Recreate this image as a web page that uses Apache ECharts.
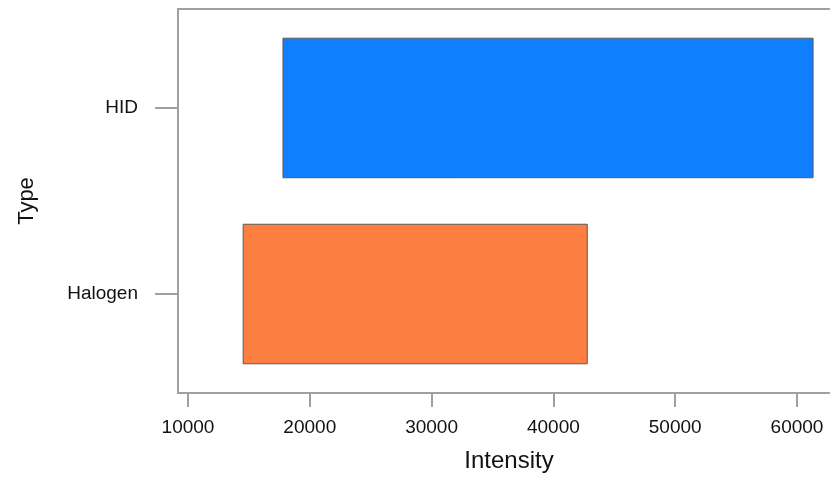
<!DOCTYPE html>
<html>
<head>
    <meta charset="utf-8">
    <title>Intensity by Type</title>
    <script src="https://cdn.jsdelivr.net/npm/echarts@6/dist/echarts.min.js"></script>
    <style>
        html, body { margin: 0; padding: 0; background: #fff; }
        #chart { width: 830px; height: 480px; }
    </style>
</head>
<body>
    <div id="chart"></div>
    <script type="text/javascript">
        // categories from bottom to top
        var types = ['Halogen', 'HID'];
        var rangeStart = [14530, 17800];
        var rangeEnd = [42780, 61320];
        var barColors = ['#FC7E41', '#0F7FFF'];
        var xTicks = [10000, 20000, 30000, 40000, 50000, 60000];
        var yTicks = [0, 1];

        var rows = [];
        for (var i = 0; i < types.length; i++) {
            rows.push([rangeStart[i], rangeEnd[i], i]);
        }

        var chart = echarts.init(document.getElementById('chart'));

        var frame = { color: '#a0a0a0', width: 2 };

        var option = {
            backgroundColor: '#fff',
            animation: false,
            grid: {
                left: 178,
                right: 0,
                top: 9,
                bottom: 87,
                show: false
            },
            xAxis: [{
                type: 'value',
                min: 9180,
                max: 62710,
                name: 'Intensity',
                nameLocation: 'middle',
                nameGap: 56,
                nameTextStyle: { fontFamily: 'Liberation Sans', fontSize: 24, color: '#111', padding: [0, 0, 0, 10] },
                splitLine: { show: false },
                axisLine: { show: true, onZero: false, lineStyle: frame },
                axisTick: { show: true, length: 14, customValues: xTicks, lineStyle: frame },
                axisLabel: {
                    customValues: xTicks,
                    margin: 25,
                    fontFamily: 'Liberation Sans',
                    fontSize: 19,
                    color: '#111',
                    formatter: function (v) { return String(v); }
                }
            }, {
                // top frame line only
                type: 'value',
                position: 'top',
                min: 9180,
                max: 62710,
                splitLine: { show: false },
                axisLine: { show: true, onZero: false, lineStyle: frame },
                axisTick: { show: false },
                axisLabel: { show: false }
            }],
            yAxis: {
                type: 'value',
                min: -0.532,
                max: 1.532,
                name: 'Type',
                nameLocation: 'middle',
                nameGap: 140,
                nameRotate: 90,
                nameTextStyle: { fontFamily: 'Liberation Sans', fontSize: 22, color: '#111' },
                splitLine: { show: false },
                axisLine: { show: true, onZero: false, lineStyle: frame },
                axisTick: { show: true, length: 23, customValues: yTicks, lineStyle: frame },
                axisLabel: {
                    customValues: yTicks,
                    margin: 40,
                    fontFamily: 'Liberation Sans',
                    fontSize: 19,
                    color: '#111',
                    formatter: function (v) { return types[Math.round(v)]; }
                }
            },
            series: [{
                type: 'custom',
                data: rows,
                encode: { x: [0, 1], y: 2 },
                renderItem: function (params, api) {
                    var idx = api.value(2);
                    var p0 = api.coord([api.value(0), idx]);
                    var p1 = api.coord([api.value(1), idx]);
                    var h = api.size([0, 0.75])[1];
                    return {
                        type: 'rect',
                        shape: { x: p0[0], y: p0[1] - h / 2, width: p1[0] - p0[0], height: h },
                        style: { fill: barColors[idx], stroke: '#5a5a5a', lineWidth: 1 }
                    };
                }
            }]
        };

        chart.setOption(option);
    </script>
</body>
</html>
